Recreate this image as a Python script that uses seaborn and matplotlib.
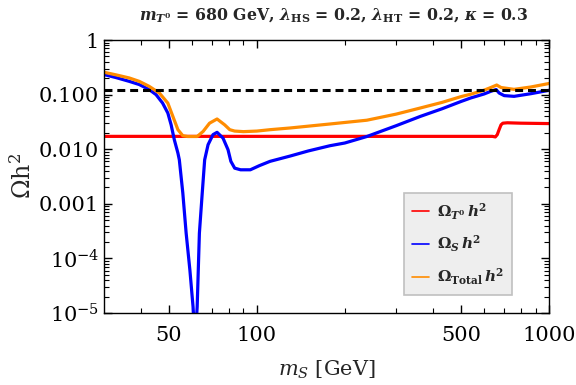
import numpy as np
import pandas as pd
import matplotlib
matplotlib.use("Agg")
import matplotlib.pyplot as plt
import seaborn as sns
from matplotlib.ticker import FixedLocator, FixedFormatter, NullFormatter

# Omega_T0 h^2 (red)
m_red = [30, 100, 300, 600, 640, 655, 665, 675, 685, 695, 720, 800, 1000]
om_red = [0.0172, 0.0172, 0.0172, 0.0172, 0.0172, 0.0168, 0.0185, 0.023, 0.028, 0.030, 0.0305,
          0.030, 0.0295]

# Omega_S h^2 (blue)
m_blue = [30, 33, 36.6, 39.6, 42.8, 45.2, 47.6, 49.6, 50.9, 52.2, 53.7, 54.3, 55.8, 57.3, 59,
          60.5, 61.5, 62.5, 63.6, 65, 66.3, 68.1, 70.8, 73.1, 76.6, 79.7, 81.5, 84, 88, 95, 102,
          111, 130, 150, 178, 200, 238, 300, 363, 430, 500, 540, 600, 632, 659, 675, 702, 759,
          866, 1000]
om_blue = [0.233, 0.205, 0.175, 0.153, 0.124, 0.10, 0.070, 0.046, 0.028, 0.0149, 0.0085, 0.0064,
           0.0016, 2.9e-4, 6.2e-5, 1.3e-5, 3e-6, 1.3e-5, 2.9e-4, 0.0015, 0.0064, 0.0121, 0.0185,
           0.0204, 0.016, 0.0098, 0.006, 0.0045, 0.0042, 0.0042, 0.0050, 0.0060, 0.0075, 0.0093,
           0.0116, 0.013, 0.0171, 0.027, 0.040, 0.055, 0.075, 0.087, 0.103, 0.115, 0.124, 0.107,
           0.096, 0.093, 0.104, 0.12]

# Omega_Total h^2 (orange)
m_tot = [30, 33, 36.6, 39.6, 42.8, 46.4, 49.6, 51.6, 53.7, 55.8, 58, 62.5, 65.5, 68.9, 73.1,
         77.6, 80.8, 84, 90, 100, 111, 130, 178, 238, 300, 363, 430, 500, 540, 600, 632, 662,
         685, 759, 866, 1000]
om_tot = [0.257, 0.23, 0.202, 0.175, 0.142, 0.107, 0.070, 0.040, 0.0228, 0.0177, 0.0171, 0.0171,
          0.0212, 0.030, 0.0358, 0.028, 0.0228, 0.0215, 0.021, 0.0215, 0.0228, 0.0245, 0.029,
          0.034, 0.044, 0.057, 0.072, 0.092, 0.102, 0.121, 0.135, 0.15, 0.135, 0.125, 0.138,
          0.16]

planck = 0.12

ytick_vals = [1e-5, 1e-4, 1e-3, 1e-2, 1e-1, 1]
ytick_labels = ["$10^{-5}$", "$10^{-4}$", "0.001", "0.010", "0.100", "1"]
xtick_vals = [50, 100, 500, 1000]
xtick_labels = ["50", "100", "500", "1000"]

sns.set_style("ticks")
plt.rcParams["font.family"] = ["DejaVu Serif"]
plt.rcParams["mathtext.fontset"] = "custom"
plt.rcParams["mathtext.rm"] = "DejaVu Serif"
plt.rcParams["mathtext.it"] = "DejaVu Serif:italic"
# \mathbf -> bold italic, \mathsf -> bold upright (used in title and legend)
plt.rcParams["mathtext.bf"] = "DejaVu Serif:italic:bold"
plt.rcParams["mathtext.sf"] = "DejaVu Serif:bold"

fig = plt.figure(figsize=(5.76, 3.85), dpi=100)
ax = fig.add_axes([0.1806, 0.187, 0.7726, 0.709])

lw = 2.3
sns.lineplot(x=m_red, y=om_red, color="#ff0000", lw=lw, ax=ax,
             label=r"$\mathsf{\Omega}_{\mathbf{T}^{\mathsf{0}}}\,\mathbf{h}^{\mathsf{2}}$")
sns.lineplot(x=m_blue, y=om_blue, color="#0000ff", lw=lw, ax=ax,
             label=r"$\mathsf{\Omega}_{\mathbf{S}}\,\mathbf{h}^{\mathsf{2}}$")
sns.lineplot(x=m_tot, y=om_tot, color="#ff8c00", lw=lw, ax=ax,
             label=r"$\mathsf{\Omega}_{\mathsf{Total}}\,\mathbf{h}^{\mathsf{2}}$")
ax.axhline(planck, color="black", lw=2.2, ls=(0, (2.6, 1.6)))

ax.set_xscale("log")
ax.set_yscale("log")
ax.set_xlim(30, 1000)
ax.set_ylim(1e-5, 1)

ax.yaxis.set_major_locator(FixedLocator(ytick_vals))
ax.yaxis.set_major_formatter(FixedFormatter(ytick_labels))
ax.yaxis.set_minor_locator(FixedLocator([k * 10.0 ** e for e in range(-5, 0) for k in range(2, 10)]))
ax.yaxis.set_minor_formatter(NullFormatter())
ax.xaxis.set_major_locator(FixedLocator(xtick_vals))
ax.xaxis.set_major_formatter(FixedFormatter(xtick_labels))
ax.xaxis.set_minor_locator(FixedLocator([40, 60, 70, 80, 90, 200, 300, 400, 600, 700, 800, 900]))
ax.xaxis.set_minor_formatter(NullFormatter())

ax.tick_params(which="both", direction="in", top=True, right=True, labelsize=15, colors="black")
ax.tick_params(which="major", length=6, width=1)
ax.tick_params(which="minor", length=3.5, width=0.8)
ax.tick_params(axis="x", which="major", pad=9)
for s in ax.spines.values():
    s.set_linewidth(1)
    s.set_color("black")

ax.set_xlabel(r"$m_S$ [GeV]", fontsize=15, labelpad=10)
ax.set_ylabel(r"$\mathrm{\Omega h}^2$", fontsize=17, labelpad=2)
ax.set_title(r"$\mathbf{m}_{\mathbf{T}^{\mathsf{0}}}$ = 680 GeV, $\mathbf{\lambda}_{\mathsf{HS}}$ = 0.2, "
             r"$\mathbf{\lambda}_{\mathsf{HT}}$ = 0.2, $\mathbf{\kappa}$ = 0.3",
             fontsize=11.3, fontweight="bold", pad=14, x=0.515)

leg = ax.legend(loc="lower left", bbox_to_anchor=(0.674, 0.066), fontsize=11,
                frameon=True, fancybox=False, facecolor="#eeeeee", edgecolor="#c0c0c0",
                framealpha=1, handlelength=1.1, handletextpad=0.5, labelspacing=0.8,
                borderpad=0.55, borderaxespad=0)
leg.get_frame().set_linewidth(1.2)
for l in leg.get_lines():
    l.set_linewidth(1.2)

fig.savefig("out.png", dpi=100)
